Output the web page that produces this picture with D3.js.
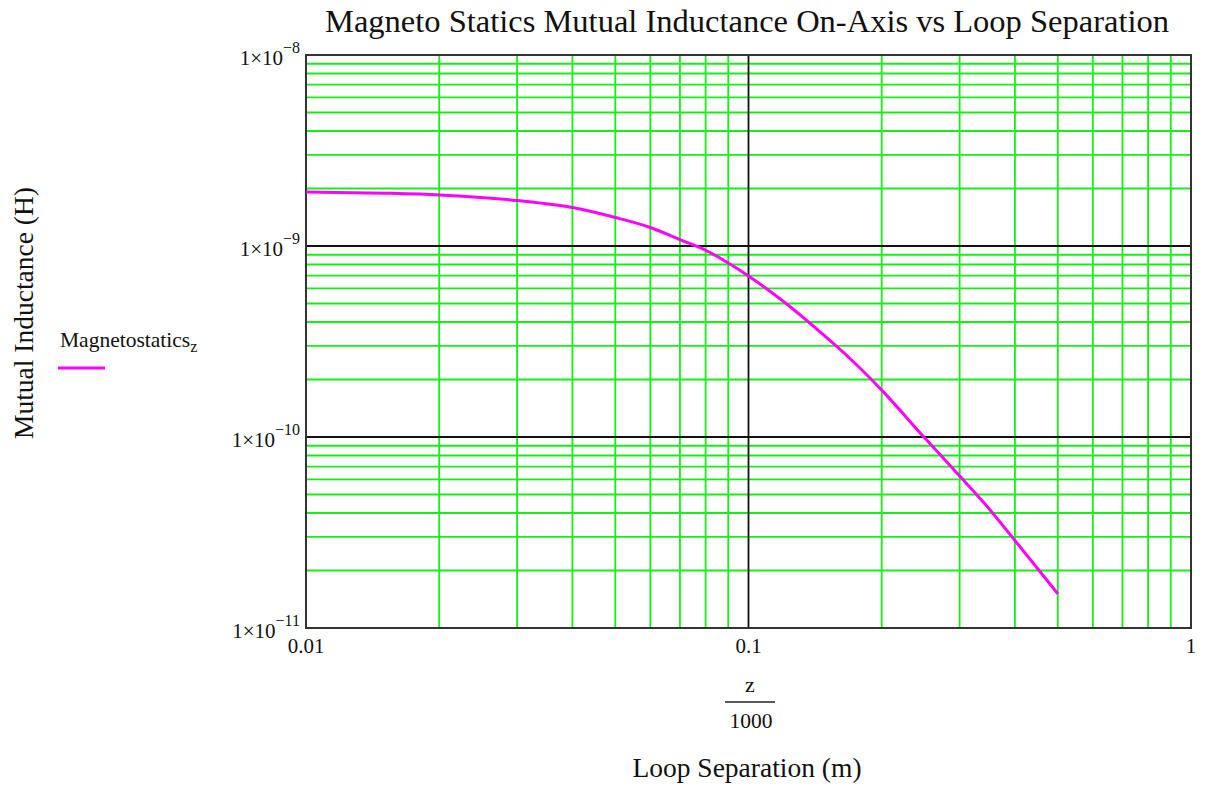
<!DOCTYPE html>
<html>
<head>
<meta charset="utf-8">
<script src="https://cdn.jsdelivr.net/npm/d3@7/dist/d3.min.js"></script>
<style>
  html, body { margin: 0; padding: 0; background: #fff; }
  svg text { font-family: "Liberation Serif", "Times New Roman", serif; fill: #111; }
</style>
</head>
<body>
<svg id="chart" width="1209" height="788"></svg>
<script>
// Loop separation z/1000 (m)
const separation = [0.01, 0.015, 0.02, 0.03, 0.04, 0.05, 0.06, 0.07, 0.08, 0.09,
                    0.1, 0.12, 0.15, 0.17, 0.2, 0.25, 0.3, 0.35, 0.4, 0.45, 0.5];
// Mutual inductance (H)
const inductance = [1.92e-9, 1.89e-9, 1.85e-9, 1.73e-9, 1.59e-9, 1.41e-9, 1.25e-9, 1.08e-9, 9.5e-10, 8.15e-10,
                    6.97e-10, 5.12e-10, 3.32e-10, 2.56e-10, 1.76e-10, 9.9e-11, 6.25e-11, 4.2e-11, 2.87e-11, 2.05e-11, 1.51e-11];

const xTicks = [0.01, 0.1, 1];
const xTickLabels = ["0.01", "0.1", "1"];
const yTicks = [1e-11, 1e-10, 1e-9, 1e-8];
const yTickExponents = ["\u221211", "\u221210", "\u22129", "\u22128"];

const titleText = "Magneto Statics Mutual Inductance On-Axis vs Loop Separation";
const xLabel = "Loop Separation (m)";
const yLabel = "Mutual Inductance (H)";
const legendName = "Magnetostatics";
const legendSub = "z";

const svg = d3.select("#chart");
const plotL = 306, plotR = 1191, plotT = 55, plotB = 628;

const x = d3.scaleLog().domain([0.01, 1]).range([plotL, plotR]);
const y = d3.scaleLog().domain([1e-11, 1e-8]).range([plotB, plotT]);

// minor grid values: 2..9 within each decade
const minorX = [];
[0.01, 0.1].forEach(d => { for (let k = 2; k <= 9; k++) minorX.push(d * k); });
const minorY = [];
[1e-11, 1e-10, 1e-9].forEach(d => { for (let k = 2; k <= 9; k++) minorY.push(d * k); });

const grid = svg.append("g");
grid.selectAll("line.mx").data(minorX).enter().append("line")
  .attr("x1", d => x(d)).attr("x2", d => x(d)).attr("y1", plotT).attr("y2", plotB)
  .attr("stroke", "#14f014").attr("stroke-width", 1.8);
grid.selectAll("line.my").data(minorY).enter().append("line")
  .attr("y1", d => y(d)).attr("y2", d => y(d)).attr("x1", plotL).attr("x2", plotR)
  .attr("stroke", "#14f014").attr("stroke-width", 1.8);

// decade lines
grid.selectAll("line.Mx").data(xTicks.slice(1, -1)).enter().append("line")
  .attr("x1", d => x(d)).attr("x2", d => x(d)).attr("y1", plotT).attr("y2", plotB)
  .attr("stroke", "#111").attr("stroke-width", 1.8);
grid.selectAll("line.My").data(yTicks.slice(1, -1)).enter().append("line")
  .attr("y1", d => y(d)).attr("y2", d => y(d)).attr("x1", plotL).attr("x2", plotR)
  .attr("stroke", "#111").attr("stroke-width", 1.8);

// frame
svg.append("rect").attr("x", plotL).attr("y", plotT)
  .attr("width", plotR - plotL).attr("height", plotB - plotT)
  .attr("fill", "none").attr("stroke", "#333").attr("stroke-width", 2);

// curve
const line = d3.line().x((d, i) => x(separation[i])).y(d => y(d)).curve(d3.curveMonotoneX);
svg.append("path").datum(inductance).attr("d", line)
  .attr("fill", "none").attr("stroke", "#ff00ff").attr("stroke-width", 3)
  .attr("stroke-linejoin", "round");

// x tick labels
svg.selectAll("text.xt").data(xTicks).enter().append("text")
  .attr("x", d => x(d)).attr("y", plotB + 25)
  .attr("text-anchor", "middle").attr("font-size", 21)
  .text((d, i) => xTickLabels[i]);

// y tick labels 1×10^n
const yt = svg.selectAll("text.yt").data(yTicks).enter().append("text")
  .attr("x", plotL - 6).attr("y", d => y(d) + 10)
  .attr("text-anchor", "end").attr("font-size", 21);
yt.append("tspan").text("1\u00d710");
yt.append("tspan").attr("dy", -12).attr("font-size", 16).text((d, i) => yTickExponents[i]);

// title
svg.append("text").attr("x", 747).attr("y", 32).attr("text-anchor", "middle")
  .attr("font-size", 32.5).text(titleText);

// x axis label as z / 1000
svg.append("text").attr("x", 750).attr("y", 692).attr("text-anchor", "middle")
  .attr("font-size", 22).text("z");
svg.append("line").attr("x1", 725).attr("x2", 775).attr("y1", 702).attr("y2", 702)
  .attr("stroke", "#222").attr("stroke-width", 1.5);
svg.append("text").attr("x", 751).attr("y", 728).attr("text-anchor", "middle")
  .attr("font-size", 21.5).text("1000");
svg.append("text").attr("x", 747).attr("y", 777).attr("text-anchor", "middle")
  .attr("font-size", 27.5).text(xLabel);

// y axis label
svg.append("text").attr("transform", "translate(33,313) rotate(-90)")
  .attr("text-anchor", "middle").attr("font-size", 27.5).text(yLabel);

// legend
const lg = svg.append("text").attr("x", 60).attr("y", 347).attr("font-size", 21.5);
lg.append("tspan").text(legendName);
lg.append("tspan").attr("dy", 5).attr("font-size", 16).text(legendSub);
svg.append("line").attr("x1", 58).attr("x2", 105).attr("y1", 368).attr("y2", 368)
  .attr("stroke", "#ff00ff").attr("stroke-width", 3);
</script>
</body>
</html>
